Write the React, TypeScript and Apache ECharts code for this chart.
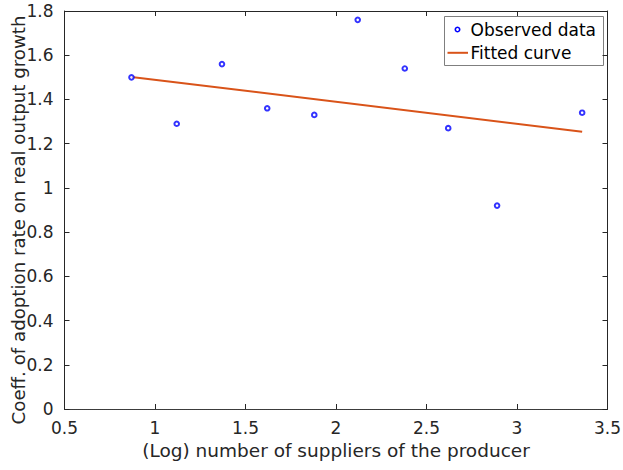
import React, { useEffect, useRef } from "react";
import * as echarts from "echarts";

const obsX = [0.87, 1.12, 1.37, 1.62, 1.88, 2.12, 2.38, 2.62, 2.89, 3.36];
const obsY = [1.5, 1.29, 1.56, 1.36, 1.33, 1.76, 1.54, 1.27, 0.92, 1.34];
const fitX = [0.87, 3.36];
const fitY = [1.502, 1.254];
const xTicks = { min: 0.5, max: 3.5, interval: 0.5 };
const yTicks = { min: 0, max: 1.8, interval: 0.2 };
const legendNames = ["Observed data", "Fitted curve"];
const xTitle = "(Log) number of suppliers of the producer";
const yTitle = "Coeff. of adoption rate on real output growth";

const FONT = "DejaVu Sans, Verdana, sans-serif";
const AX = "#262626";
const BLUE = "#0000ff";
const ORANGE = "#D95319";

export default function App() {
  const ref = useRef<HTMLDivElement>(null);
  useEffect(() => {
    if (!ref.current) return;
    const chart = echarts.init(ref.current, null, { renderer: "svg" });
    const baseAxis = {
      type: "value" as const,
      axisLine: { show: true, onZero: false, lineStyle: { color: AX, width: 1 } },
      axisTick: { show: true, inside: true, length: 5, lineStyle: { color: AX, width: 1 } },
      splitLine: { show: false },
    };
    chart.setOption({
      animation: false,
      backgroundColor: "#ffffff",
      textStyle: { fontFamily: FONT },
      grid: {
        left: 64.5,
        right: 15.5,
        top: 11,
        bottom: 61,
        containLabel: false,
        outerBoundsMode: "none",
      },
      xAxis: [
        {
          ...baseAxis,
          ...xTicks,
          position: "bottom",
          axisLine: { show: true, onZero: false, lineStyle: { color: AX, width: 1, type: [1, 1] } },
          axisLabel: { fontFamily: FONT, fontSize: 17, color: AX, margin: 10 },
          name: xTitle,
          nameLocation: "middle",
          nameGap: 32,
          nameTextStyle: { fontFamily: FONT, fontSize: 18.5, color: AX },
        },
        {
          ...baseAxis,
          ...xTicks,
          position: "top",
          axisLabel: { show: false },
        },
      ],
      yAxis: [
        {
          ...baseAxis,
          ...yTicks,
          position: "left",
          axisLabel: { fontFamily: FONT, fontSize: 17, color: AX, margin: 11 },
        },
        {
          ...baseAxis,
          ...yTicks,
          position: "right",
          axisLabel: { show: false },
        },
      ],
      graphic: [
        {
          type: "text",
          x: 18,
          y: 220,
          rotation: Math.PI / 2,
          style: {
            text: yTitle,
            fontFamily: FONT,
            fontSize: 18.2,
            fill: AX,
            align: "center",
            verticalAlign: "middle",
          },
        },
        {
          type: "group",
          left: 444,
          top: 16,
          children: [
            {
              type: "rect",
              shape: { x: 0, y: 0, width: 159, height: 49 },
              style: { fill: "#ffffff", stroke: "#7f7f7f", lineWidth: 1 },
            },
            {
              type: "circle",
              shape: { cx: 13, cy: 13, r: 2.2 },
              style: { fill: "#ffffff", stroke: BLUE, lineWidth: 1.6 },
            },
            {
              type: "line",
              shape: { x1: 3, y1: 36.3, x2: 23.5, y2: 36.3 },
              style: { stroke: ORANGE, lineWidth: 2 },
            },
            {
              type: "text",
              x: 26,
              y: 13,
              style: {
                text: legendNames[0],
                fontFamily: FONT,
                fontSize: 17,
                fill: "#000",
                verticalAlign: "middle",
                align: "left",
              },
            },
            {
              type: "text",
              x: 26,
              y: 36.3,
              style: {
                text: legendNames[1],
                fontFamily: FONT,
                fontSize: 17,
                fill: "#000",
                verticalAlign: "middle",
                align: "left",
              },
            },
          ],
        },
      ],
      series: [
        {
          name: legendNames[0],
          type: "scatter",
          xAxisIndex: 0,
          yAxisIndex: 0,
          symbol: "circle",
          symbolSize: 4.6,
          itemStyle: { color: "#ffffff", borderColor: BLUE, borderWidth: 2 },
          data: obsX.map((x, i) => [x, obsY[i]]),
          z: 3,
        },
        {
          name: legendNames[1],
          type: "line",
          xAxisIndex: 0,
          yAxisIndex: 0,
          symbol: "none",
          lineStyle: { color: ORANGE, width: 2 },
          itemStyle: { color: ORANGE },
          data: fitX.map((x, i) => [x, fitY[i]]),
          z: 2,
        },
      ],
    });
    return () => chart.dispose();
  }, []);
  return (
    <div
      ref={ref}
      style={{ position: "fixed", left: 0, top: 0, width: 623, height: 470 }}
    />
  );
}
